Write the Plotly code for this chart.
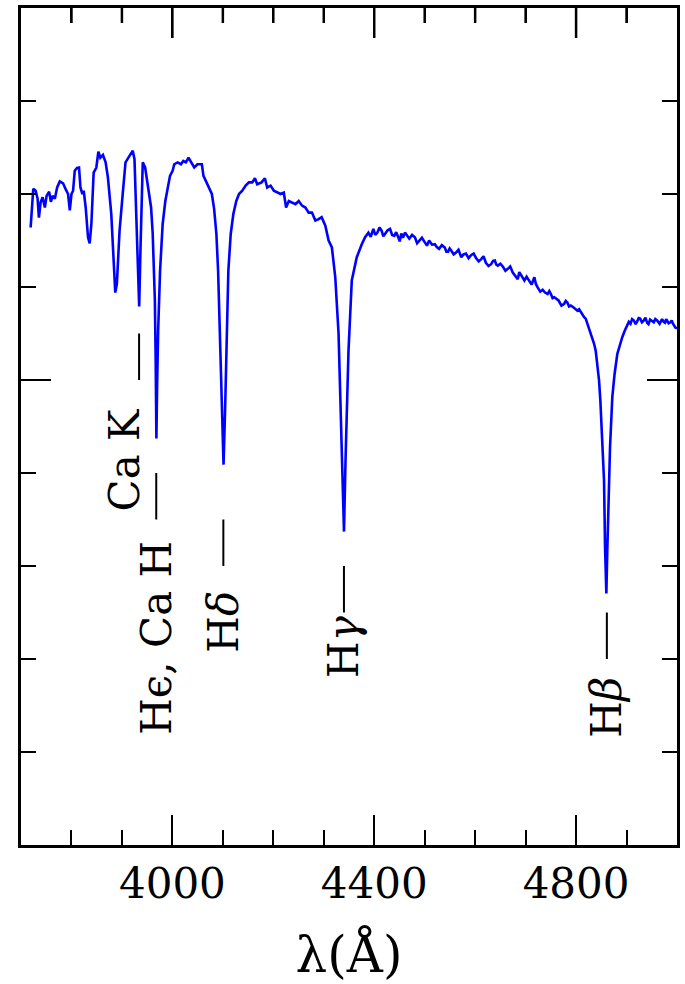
import plotly.graph_objects as go

# Spectrum (wavelength in Angstrom, relative flux)
wavelength = [
    3719.1, 3721.1, 3724.3, 3729.0, 3732.9, 3735.5, 3738.9, 3742.8, 3747.3, 3750.7,
    3755.8, 3759.2, 3762.5, 3767.1, 3771.6, 3776.9, 3783.4, 3788.2, 3793.3, 3796.7,
    3800.0, 3803.2, 3806.5, 3811.1, 3815.0, 3817.8, 3821.7, 3824.3, 3828.2, 3832.8,
    3836.1, 3839.5, 3844.0, 3849.3, 3853.3, 3857.2, 3862.4, 3867.7, 3872.2, 3878.9,
    3883.5, 3886.8, 3890.0, 3895.3, 3901.8, 3907.1, 3915.0, 3921.5, 3924.9, 3928.2,
    3931.4, 3934.2, 3936.7, 3938.1, 3941.3, 3946.0, 3951.1, 3957.8, 3961.0, 3963.4,
    3965.3, 3966.9, 3968.3, 3969.9, 3971.8, 3975.6, 3980.7, 3986.0, 3990.6, 3995.3,
    4000.4, 4003.8, 4010.3, 4017.0, 4021.6, 4026.9, 4032.0, 4036.7, 4043.3, 4049.8,
    4058.4, 4061.6, 4066.3, 4072.8, 4078.2, 4082.7, 4087.2, 4090.6, 4093.6, 4095.9,
    4098.5, 4101.4, 4104.4, 4107.4, 4110.9, 4115.6, 4120.8, 4126.7, 4132.0, 4138.5,
    4145.2, 4151.7, 4158.3, 4163.6, 4168.1, 4176.8, 4183.3, 4187.9, 4194.6, 4201.1,
    4207.6, 4214.3, 4220.8, 4225.3, 4230.7, 4237.2, 4243.9, 4250.4, 4256.9, 4263.6,
    4270.1, 4276.6, 4283.3, 4289.8, 4295.8, 4303.1, 4309.6, 4316.1, 4322.8, 4329.3,
    4333.3, 4337.2, 4340.1, 4343.1, 4346.1, 4349.0, 4355.5, 4365.4, 4375.3, 4381.9,
    4388.5, 4393.0, 4398.3, 4402.0, 4406.2, 4410.5, 4414.7, 4418.0, 4422.0, 4426.5,
    4431.3, 4435.5, 4439.8, 4443.5, 4447.7, 4450.5, 4453.6, 4457.0, 4460.9, 4465.0,
    4469.4, 4475.0, 4480.6, 4485.0, 4489.1, 4494.5, 4500.3, 4504.5, 4508.8, 4514.5,
    4520.1, 4524.0, 4528.5, 4534.0, 4539.8, 4543.0, 4546.3, 4549.5, 4552.8, 4557.5,
    4562.1, 4567.0, 4572.5, 4577.0, 4581.8, 4587.0, 4592.3, 4597.0, 4601.5, 4607.0,
    4612.0, 4616.5, 4621.3, 4626.5, 4631.7, 4635.5, 4639.0, 4642.0, 4644.9, 4650.0,
    4654.8, 4660.0, 4664.7, 4669.5, 4674.5, 4679.5, 4684.4, 4687.5, 4690.3, 4694.0,
    4697.6, 4702.0, 4706.1, 4712.0, 4717.3, 4720.5, 4723.8, 4729.0, 4733.7, 4738.5,
    4743.6, 4747.0, 4750.1, 4753.5, 4756.8, 4761.0, 4765.3, 4771.0, 4776.5, 4779.5,
    4783.0, 4786.0, 4789.5, 4794.0, 4798.8, 4802.8, 4806.0, 4809.3, 4812.5, 4816.0,
    4819.1, 4822.5, 4829.0, 4835.7, 4838.9, 4842.2, 4845.5, 4848.1, 4850.1, 4853.1,
    4855.4, 4857.4, 4860.0, 4861.9, 4863.3, 4867.3, 4871.8, 4876.3, 4881.7, 4886.6,
    4891.5, 4896.4, 4901.4, 4904.5, 4907.9, 4911.0, 4914.6, 4918.0, 4921.1, 4924.0,
    4927.0, 4930.5, 4934.3, 4937.5, 4940.8, 4943.5, 4946.7, 4950.5, 4954.0, 4957.0,
    4960.6, 4965.5, 4970.4, 4973.5, 4976.3, 4978.5, 4980.3, 4983.5, 4986.8, 4989.5,
    4992.1, 4996.6, 5000.0,
]
flux = [
    1.328, 1.368, 1.411, 1.407, 1.390, 1.349, 1.382, 1.393, 1.371, 1.396,
    1.405, 1.383, 1.396, 1.390, 1.414, 1.427, 1.423, 1.411, 1.400, 1.365,
    1.400, 1.407, 1.450, 1.456, 1.457, 1.414, 1.400, 1.407, 1.371, 1.307,
    1.294, 1.336, 1.446, 1.457, 1.491, 1.478, 1.484, 1.468, 1.436, 1.357,
    1.257, 1.188, 1.207, 1.321, 1.403, 1.468, 1.482, 1.493, 1.475, 1.371,
    1.249, 1.158, 1.278, 1.358, 1.468, 1.457, 1.421, 1.371, 1.315, 1.235,
    1.171, 1.042, 0.874, 0.999, 1.106, 1.235, 1.335, 1.385, 1.414, 1.439,
    1.450, 1.464, 1.468, 1.464, 1.471, 1.468, 1.478, 1.468, 1.457, 1.464,
    1.464, 1.439, 1.428, 1.414, 1.400, 1.368, 1.314, 1.235, 1.128, 1.042,
    0.956, 0.818, 0.934, 1.085, 1.235, 1.314, 1.357, 1.385, 1.400, 1.407,
    1.418, 1.425, 1.425, 1.434, 1.421, 1.425, 1.434, 1.414, 1.418, 1.407,
    1.403, 1.400, 1.403, 1.371, 1.385, 1.382, 1.378, 1.385, 1.375, 1.371,
    1.360, 1.360, 1.343, 1.346, 1.350, 1.332, 1.300, 1.285, 1.221, 1.100,
    0.956, 0.806, 0.674, 0.827, 0.956, 1.063, 1.214, 1.264, 1.292, 1.307,
    1.317, 1.308, 1.325, 1.312, 1.317, 1.328, 1.321, 1.309, 1.315, 1.322,
    1.325, 1.312, 1.310, 1.318, 1.307, 1.298, 1.315, 1.306, 1.317, 1.310,
    1.304, 1.312, 1.307, 1.294, 1.300, 1.306, 1.296, 1.289, 1.300, 1.291,
    1.292, 1.286, 1.282, 1.290, 1.285, 1.276, 1.276, 1.283, 1.278, 1.270,
    1.274, 1.280, 1.264, 1.270, 1.272, 1.262, 1.269, 1.272, 1.263, 1.255,
    1.260, 1.266, 1.252, 1.245, 1.249, 1.256, 1.257, 1.248, 1.246, 1.250,
    1.244, 1.235, 1.239, 1.244, 1.231, 1.225, 1.217, 1.232, 1.227, 1.218,
    1.214, 1.222, 1.216, 1.205, 1.221, 1.206, 1.199, 1.190, 1.194, 1.188,
    1.185, 1.191, 1.185, 1.176, 1.178, 1.175, 1.171, 1.160, 1.164, 1.170,
    1.166, 1.158, 1.160, 1.157, 1.153, 1.149, 1.152, 1.146, 1.140, 1.135,
    1.132, 1.121, 1.103, 1.078, 1.063, 1.037, 0.999, 0.956, 0.913, 0.848,
    0.784, 0.641, 0.541, 0.634, 0.713, 0.856, 0.963, 1.013, 1.056, 1.076,
    1.092, 1.106, 1.117, 1.125, 1.121, 1.131, 1.128, 1.120, 1.126, 1.133,
    1.132, 1.124, 1.128, 1.134, 1.123, 1.120, 1.130, 1.127, 1.124, 1.131,
    1.128, 1.121, 1.131, 1.125, 1.123, 1.131, 1.128, 1.122, 1.124, 1.128,
    1.121, 1.113, 1.111,
]

# Line identifications
line_labels = ["Ca K", "H\u03f5, Ca H", "H<i>\u03b4</i>", "H<i>\u03b3</i>", "H<i>\u03b2</i>"]
line_wavelength = [3934, 3968, 4101, 4340, 4861]
mark_top = [1.10, 0.80, 0.70, 0.60, 0.50]
mark_bottom = [1.00, 0.70, 0.60, 0.50, 0.40]
label_x = [3905, 3968, 4102, 4339, 4860]
label_y = [0.830, 0.446, 0.480, 0.427, 0.296]

x_range = [3700, 5000]
y_range = [0, 1.8]
x_tickvals = [4000, 4400, 4800]
x_minor_ticks = [3800, 3900, 4100, 4200, 4300, 4500, 4600, 4700, 4900]

FONT = "DejaVu Serif"
PLOT_H = 984 - 8 - 139  # plot-area height in px
px_to_flux = (y_range[1] - y_range[0]) / PLOT_H

fig = go.Figure()

# top-axis ticks (mirror of the bottom axis ticks), drawn first in data units
tx, ty = [], []
for tv in x_tickvals:
    tx += [tv, tv, None]
    ty += [y_range[1], y_range[1] - 30 * px_to_flux, None]
for tv in x_minor_ticks:
    tx += [tv, tv, None]
    ty += [y_range[1], y_range[1] - 15 * px_to_flux, None]
fig.add_trace(go.Scatter(
    x=tx, y=ty, mode="lines", line=dict(color="black", width=2.5), showlegend=False,
))

fig.add_trace(go.Scatter(
    x=wavelength, y=flux, mode="lines",
    line=dict(color="#0000ff", width=2.6), showlegend=False,
))

mx, my = [], []
for lw, t, b in zip(line_wavelength, mark_top, mark_bottom):
    mx += [lw, lw, None]
    my += [t, b, None]
fig.add_trace(go.Scatter(
    x=mx, y=my, mode="lines", line=dict(color="black", width=2), showlegend=False,
))

for txt, lx, ly in zip(line_labels, label_x, label_y):
    fig.add_annotation(
        x=lx, y=ly, text=txt, textangle=-90, showarrow=False,
        font=dict(family=FONT, size=42, color="black"),
    )

fig.update_layout(
    width=685, height=984, margin=dict(l=21, r=5, t=8, b=139),
    paper_bgcolor="white", plot_bgcolor="white",
    font=dict(family=FONT, size=42, color="black"),
)
fig.update_xaxes(
    range=x_range, tickvals=x_tickvals, ticks="inside", ticklen=30, tickwidth=2,
    tickcolor="black", minor=dict(dtick=100, tick0=3700, ticks="inside", ticklen=15),
    showline=True, linecolor="black", linewidth=3, mirror="allticks", showgrid=False,
    zeroline=False, title=dict(text="\u03bb(\u00c5)", standoff=30),
)
fig.update_yaxes(
    range=y_range, tick0=0, dtick=1.0, showticklabels=False, ticks="inside",
    ticklen=30, tickwidth=2, tickcolor="black",
    minor=dict(dtick=0.2, tick0=0, ticks="inside", ticklen=15),
    showline=True, linecolor="black", linewidth=3, mirror="ticks", showgrid=False,
    zeroline=False,
)

fig.write_html("out.html")
